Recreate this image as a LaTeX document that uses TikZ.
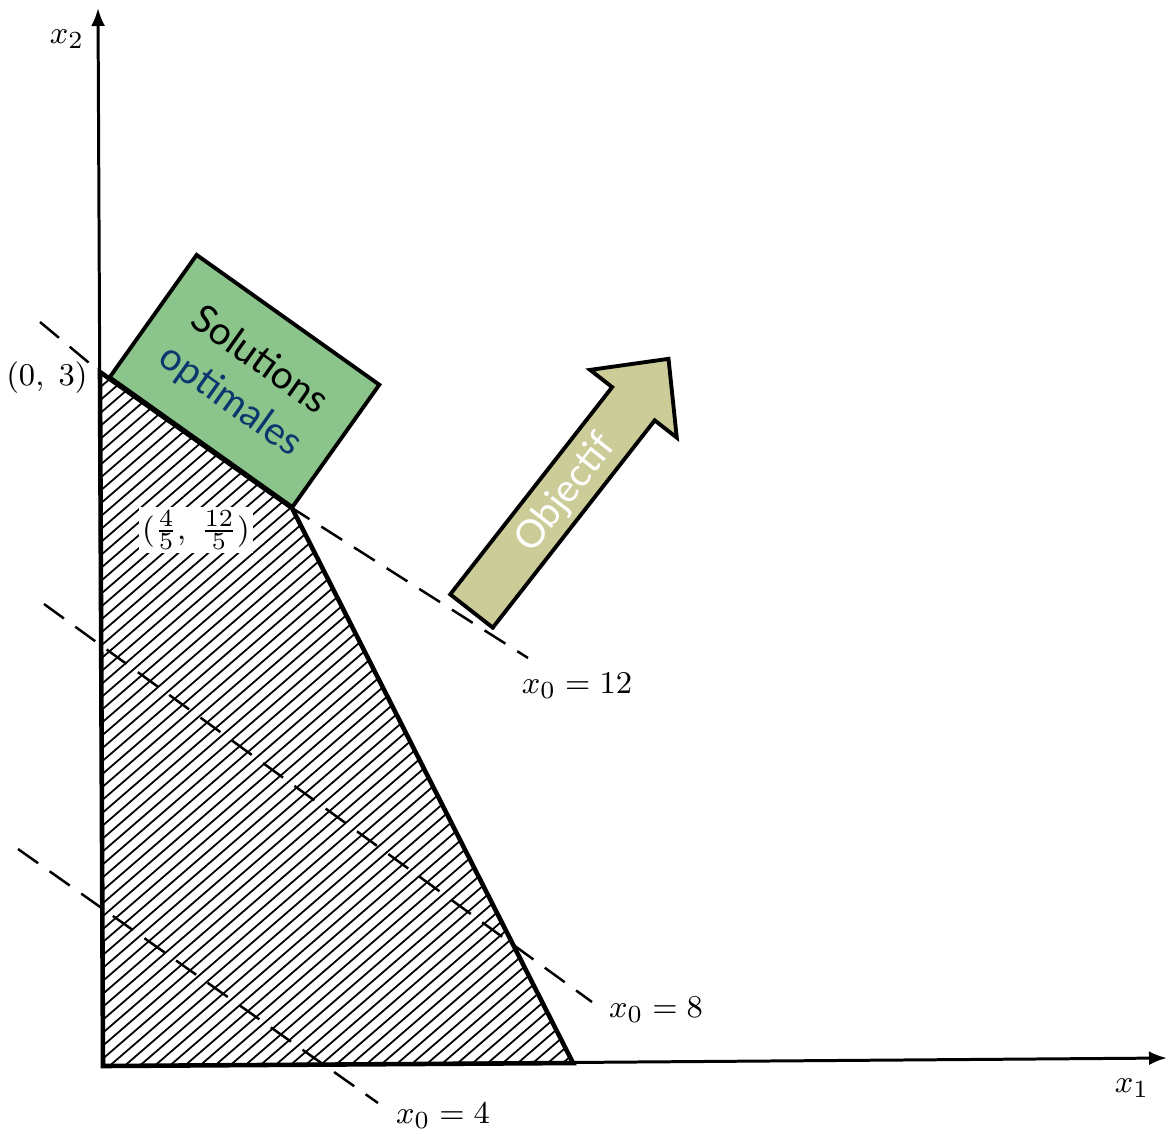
\documentclass[tikz,border=0pt]{standalone}
\usepackage{amsmath,amssymb}
\usepackage{xcolor}
\usepackage{fontspec}
\newfontfamily\gillfont{Lato}
\usetikzlibrary{arrows.meta}
\definecolor{solgreen}{RGB}{139,197,139}
\definecolor{objkhaki}{RGB}{204,204,153}
\definecolor{optblue}{RGB}{10,55,110}

\begin{document}
\begin{tikzpicture}[
    x=0.01cm, y=-0.01cm,
    axis/.style={line width=0.85pt, -{Latex[length=0.18cm, width=0.14cm]}},
    edge/.style={line width=1.3pt, line join=miter},
    level/.style={line width=0.7pt, dash pattern=on 7pt off 4pt},
    hatch/.style={line width=0.5pt},
    lbl/.style={font=\fontsize{9.5}{11}\selectfont, inner sep=1pt},
    solbox/.style={rectangle, draw, line width=1.1pt, fill=solgreen, minimum width=2.24cm, minimum height=1.5cm, align=center, rotate=-35.4, font=\gillfont\fontsize{11}{14}\selectfont},
    objarrow/.style={draw, line width=1.1pt, fill=objkhaki, line join=miter}
]
\useasboundingbox (0,0) rectangle (1168,1134);

\coordinate (O) at (103,1066);
\coordinate (A) at (100,372);
\coordinate (B) at (292,508);
\coordinate (C) at (573,1063);
\coordinate (x1end) at (1167,1058);
\coordinate (x2end) at (98,8);
\coordinate (l12a) at (40,322);
\coordinate (l12b) at (528,658);
\coordinate (l8a) at (44,604);
\coordinate (l8b) at (592,1002);
\coordinate (l4a) at (18,849);
\coordinate (l4b) at (378,1103);

\begin{scope}
\clip (O) -- (A) -- (B) -- (C) -- cycle;
\foreach \c in {-1100,-1085,...,600}
  \draw[hatch] (\c,1100) -- ++(1042,-900);
\end{scope}

\draw[level] (l12a) -- (A) -- (B) -- (l12b);
\draw[level] (l8a) -- (l8b);
\draw[level] (l4a) -- (l4b);

\draw[axis] (O) -- (x1end);
\draw[axis] (O) -- (x2end);
\draw[edge] (O) -- (A) -- (B) -- (C) -- cycle;

\node[solbox] (sol) at (244.5,381) {Solutions\\\textcolor{optblue}{optimales}};

\begin{scope}[shift={(471.5,611)}, rotate=52]
\draw[objarrow] (0,-27) -- (263,-27) -- (263,-55) -- (320,0) -- (263,55) -- (263,27) -- (0,27) -- cycle;
\end{scope}
\node[rotate=52, text=white, font=\gillfont\fontsize{11}{14}\selectfont] (obj) at (566,494) {Objectif};

\node[lbl] (p03) at (47,378) {$(0,\;3)$};
\node[lbl, fill=white] (pB) at (196,530) {$(\frac{4}{5},\;\frac{12}{5})$};
\node[lbl] (t12) at (577,686) {$x_0 = 12$};
\node[lbl] (t8) at (656,1010) {$x_0 = 8$};
\node[lbl] (t4) at (443,1116) {$x_0 = 4$};
\node[lbl] (lx2) at (67,39) {$x_2$};
\node[lbl] (lx1) at (1132,1088) {$x_1$};
\end{tikzpicture}
\end{document}
